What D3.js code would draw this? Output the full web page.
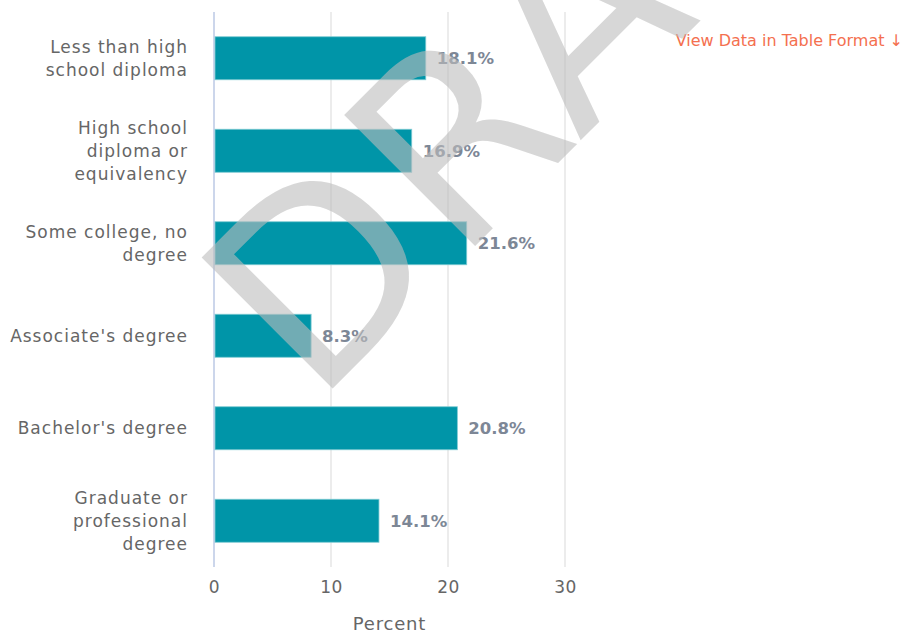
<!DOCTYPE html>
<html>
<head>
<meta charset="utf-8">
<script src="https://cdn.jsdelivr.net/npm/d3@7/dist/d3.min.js"></script>
<style>
  html, body { margin: 0; padding: 0; background: #fff; }
  svg { display: block; }
</style>
</head>
<body>
<svg id="chart" width="905" height="635"></svg>
<script>
// Educational attainment shares (percent)
const categories = [
  "Less than high school diploma",
  "High school diploma or equivalency",
  "Some college, no degree",
  "Associate's degree",
  "Bachelor's degree",
  "Graduate or professional degree"
];
// Wrapped category labels, one entry per line
const categoryLines = [
  ["Less than high", "school diploma"],
  ["High school", "diploma or", "equivalency"],
  ["Some college, no", "degree"],
  ["Associate's degree"],
  ["Bachelor's degree"],
  ["Graduate or", "professional", "degree"]
];
const values = [18.1, 16.9, 21.6, 8.3, 20.8, 14.1];
const xTicks = [0, 10, 20, 30];
const xTitle = "Percent";
const linkText = "View Data in Table Format \u2193";
const watermark = "DRAFT";

const svg = d3.select("#chart");
const margin = { top: 12, left: 214, right: 340, bottom: 68 };
const W = 905, H = 635;

const x = d3.scaleLinear().domain([0, 30]).range([margin.left, W - margin.right]);
const y = d3.scaleBand()
  .domain(categories)
  .range([margin.top, H - margin.bottom])
  .paddingInner(0.535)
  .paddingOuter(0.2675);

const labelFont = "'DejaVu Sans', Verdana, sans-serif";

// Vertical grid lines
svg.append("g")
  .selectAll("line")
  .data(xTicks)
  .join("line")
  .attr("x1", d => x(d)).attr("x2", d => x(d))
  .attr("y1", y.range()[0]).attr("y2", y.range()[1])
  .attr("stroke", d => d === 0 ? "#ccd6eb" : "#e6e6e6")
  .attr("stroke-width", d => d === 0 ? 2 : 1.5);

// Bars
svg.append("g")
  .selectAll("rect")
  .data(values)
  .join("rect")
  .attr("x", x(0) + 1)
  .attr("y", (d, i) => y(categories[i]))
  .attr("width", d => x(d) - x(0) - 1)
  .attr("height", y.bandwidth())
  .attr("fill", "#0095a8")
  .attr("stroke", "#7fcad3")
  .attr("stroke-width", 0.8);

// Value labels
svg.append("g")
  .selectAll("text")
  .data(values)
  .join("text")
  .attr("x", d => x(d) + 11)
  .attr("y", (d, i) => y(categories[i]) + y.bandwidth() / 2)
  .attr("dy", "0.36em")
  .attr("font-family", labelFont)
  .attr("font-size", 16.5)
  .attr("font-weight", "bold")
  .attr("fill", "#7d8796")
  .text(d => d.toFixed(1) + "%");

// Category labels
const lineH = 23;
const cat = svg.append("g")
  .selectAll("text")
  .data(categories)
  .join("text")
  .attr("font-family", labelFont)
  .attr("font-size", 17)
  .attr("letter-spacing", "1px")
  .attr("fill", "#666666")
  .attr("text-anchor", "end");
cat.each(function (d, i) {
  const lines = categoryLines[i];
  const cy = y(d) + y.bandwidth() / 2;
  const t0 = cy - (lines.length - 1) * lineH / 2;
  d3.select(this).selectAll("tspan")
    .data(lines)
    .join("tspan")
    .attr("x", 188)
    .attr("y", (l, k) => t0 + k * lineH)
    .attr("dy", "0.36em")
    .text(l => l);
});

// X axis tick labels
const xAxis = d3.axisBottom(x).tickValues(xTicks).tickSize(0).tickPadding(0);
const ga = svg.append("g")
  .attr("transform", `translate(0, ${y.range()[1] + 14})`)
  .call(xAxis);
ga.select(".domain").remove();
ga.selectAll("text")
  .attr("font-family", labelFont)
  .attr("font-size", 17)
  .attr("letter-spacing", "0.5px")
  .attr("fill", "#666666");

// Axis title
svg.append("text")
  .attr("x", (x(0) + x(30)) / 2)
  .attr("y", 630)
  .attr("text-anchor", "middle")
  .attr("font-family", labelFont)
  .attr("font-size", 18)
  .attr("letter-spacing", "0.8px")
  .attr("fill", "#666666")
  .text(xTitle);

// Table link
svg.append("text")
  .attr("x", 903)
  .attr("y", 46)
  .attr("text-anchor", "end")
  .attr("font-family", labelFont)
  .attr("font-size", 16)
  .attr("fill", "#f4704f")
  .text(linkText);

// Watermark
svg.append("text")
  .attr("transform", "translate(315, 406) rotate(-45)")
  .attr("font-family", labelFont)
  .attr("font-size", 254)
  .attr("letter-spacing", "6px")
  .attr("fill", "#bdbdbd")
  .attr("fill-opacity", 0.6)
  .text(watermark);
</script>
</body>
</html>
